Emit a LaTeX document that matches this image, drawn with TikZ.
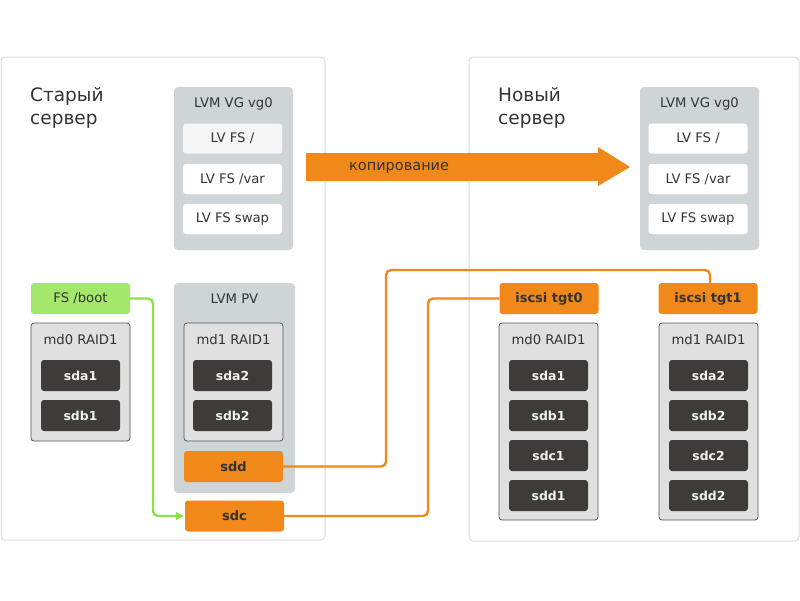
\documentclass[tikz,border=0pt]{standalone}
\usepackage{fontspec}
\setmainfont{DejaVu Sans}
\usetikzlibrary{arrows.meta,positioning}
\definecolor{panelborder}{HTML}{DDDDDD}
\definecolor{vggray}{HTML}{CFD5D7}
\definecolor{lvfirst}{HTML}{F5F5F5}
\definecolor{raidgray}{HTML}{E0E0E0}
\definecolor{raidborder}{HTML}{555555}
\definecolor{diskdark}{HTML}{403B3B}
\definecolor{disktext}{HTML}{F2F2F2}
\definecolor{orng}{HTML}{F0891A}
\definecolor{bootgreen}{HTML}{A3E86A}
\definecolor{linegreen}{HTML}{8EE04A}
\definecolor{txt}{HTML}{333333}
\tikzset{
  panel/.style={draw=panelborder, line width=1pt, fill=white, rounded corners=4pt},
  vgbox/.style={fill=vggray, rounded corners=4pt},
  lvbox/.style={fill=white, rounded corners=3pt, minimum width=99pt, minimum height=30pt, inner sep=0pt, text=txt, font=\fontsize{13.2}{15}\selectfont},
  raidbox/.style={fill=raidgray, draw=raidborder, line width=0.8pt, rounded corners=3pt},
  disk/.style={fill=diskdark, rounded corners=3pt, minimum width=79pt, minimum height=31pt, inner sep=0pt, text=disktext, font=\fontsize{12.4}{14}\selectfont\bfseries},
  obox/.style={fill=orng, rounded corners=3pt, minimum width=99pt, minimum height=31pt, inner sep=0pt, text=txt, font=\fontsize{13}{15}\selectfont\bfseries},
  gbox/.style={fill=bootgreen, rounded corners=3pt, minimum width=99pt, minimum height=31pt, inner sep=0pt, text=txt, font=\fontsize{13.2}{15}\selectfont},
  lbl/.style={text=txt, inner sep=0pt, font=\fontsize{13.2}{15}\selectfont},
  title/.style={text=txt, inner sep=0pt, align=left, anchor=north west, font=\fontsize{18.5}{23}\selectfont},
  oline/.style={draw=orng, line width=2.4pt, rounded corners=5pt},
  gline/.style={draw=linegreen, line width=2.4pt, rounded corners=5pt, -{Latex[length=9pt,width=9pt]}},
}
\begin{document}
\begin{tikzpicture}[x=1pt,y=-1pt]
\useasboundingbox (0,0) rectangle (800,600);
% panels
\draw[panel] (1,57) rectangle (325,540);
\draw[panel] (469,57) rectangle (799,541);
\node[title] (oldtitle) at (30,87) {Старый\\сервер};
\node[title] (newtitle) at (498,87) {Новый\\сервер};
% old VG
\fill[vgbox] (174,87) rectangle (293,250);
\node[lbl] (oldvg) at (233.5,104) {LVM VG vg0};
\node[lvbox, fill=lvfirst] (oldlv1) at (232.5,138.5) {LV FS /};
\node[lvbox] (oldlv2) at (232.5,179) {LV FS /var};
\node[lvbox] (oldlv3) at (232.5,219) {LV FS swap};
% new VG
\fill[vgbox] (640,87) rectangle (759,250);
\node[lbl] (newvg) at (699.5,104) {LVM VG vg0};
\node[lvbox] (newlv1) at (698,138.5) {LV FS /};
\node[lvbox] (newlv2) at (698,179) {LV FS /var};
\node[lvbox] (newlv3) at (698,219) {LV FS swap};
% copy arrow
\fill[orng] (306,153) -- (598,153) -- (598,147) -- (630,167) -- (598,186) -- (598,181) -- (306,181) -- cycle;
\node[lbl, anchor=west, font=\fontsize{14.5}{16}\selectfont] (copy) at (349,168) {копирование};
% old left stack
\node[gbox] (boot) at (80.5,298.5) {FS /boot};
\draw[raidbox] (31,323) rectangle (130,441);
\node[lbl] (oldmd0) at (80.5,340) {md0 RAID1};
\node[disk] (osda1) at (80.5,375.5) {sda1};
\node[disk] (osdb1) at (80.5,415.5) {sdb1};
% LVM PV
\fill[vgbox] (174,283) rectangle (295,493);
\node[lbl] (pv) at (234.5,299) {LVM PV};
\draw[raidbox] (184,323) rectangle (283,441);
\node[lbl] (oldmd1) at (233.5,340) {md1 RAID1};
\node[disk] (osda2) at (232.5,375.5) {sda2};
\node[disk] (osdb2) at (232.5,415.5) {sdb2};
\node[obox] (sdd) at (233.5,466.5) {sdd};
\node[obox] (sdc) at (234.5,516) {sdc};
% new targets
\node[obox] (tgt0) at (549,298.5) {iscsi tgt0};
\node[obox] (tgt1) at (708,298.5) {iscsi tgt1};
\draw[raidbox] (499,323) rectangle (598,520);
\node[lbl] (newmd0) at (548.5,340) {md0 RAID1};
\node[disk] (nsda1) at (548.5,375.5) {sda1};
\node[disk] (nsdb1) at (548.5,415.5) {sdb1};
\node[disk] (nsdc1) at (548.5,455.5) {sdc1};
\node[disk] (nsdd1) at (548.5,495.5) {sdd1};
\draw[raidbox] (659,323) rectangle (758,520);
\node[lbl] (newmd1) at (708.5,340) {md1 RAID1};
\node[disk] (nsda2) at (708.5,375.5) {sda2};
\node[disk] (nsdb2) at (708.5,415.5) {sdb2};
\node[disk] (nsdc2) at (708.5,455.5) {sdc2};
\node[disk] (nsdd2) at (708.5,495.5) {sdd2};
% connectors
\draw[gline] (boot.east) -- (153,298.5) -- (153,516) -- (sdc.west);
\draw[oline] (sdd.east) -- (386,466.5) -- (386,270) -- (710,270) -- ([xshift=2pt]tgt1.north);
\draw[oline] (sdc.east) -- (428,516) -- (428,298.5) -- (tgt0.west);
\end{tikzpicture}
\end{document}
